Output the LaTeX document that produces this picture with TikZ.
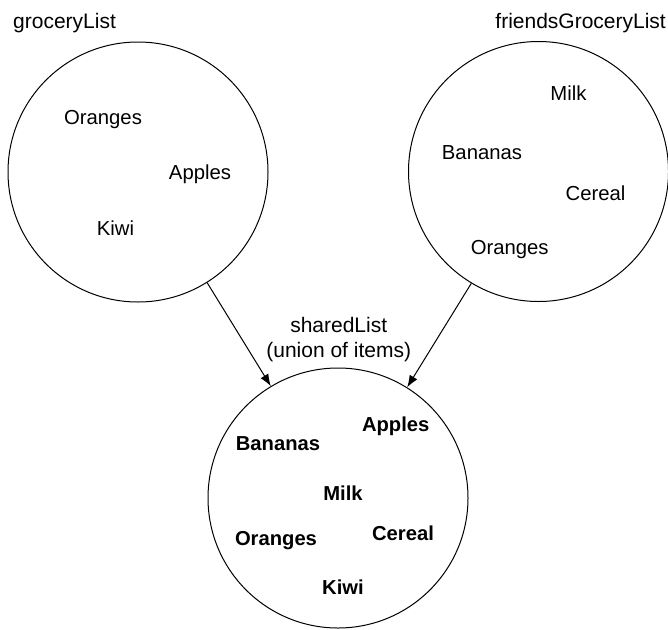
\documentclass[tikz,border=0pt]{standalone}
\usepackage{fontspec}
\setmainfont{Liberation Sans}
\usetikzlibrary{arrows.meta}
\begin{document}
\begin{tikzpicture}[x=1pt,y=-1pt,
  set/.style={draw,circle,line width=1pt,minimum size=260pt,inner sep=0pt},
  item/.style={anchor=base,inner sep=0pt,font=\fontsize{20.3}{24}\selectfont},
  title/.style={item,font=\fontsize{21}{25}\selectfont},
  bitem/.style={item,font=\fontsize{20.2}{24}\selectfont\bfseries},
  conn/.style={line width=1pt,-{Latex[length=12pt,width=9pt]}}]
\useasboundingbox (0,0) rectangle (668,629);
\node[set] (c1) at (138,172) {};
\node[set] (c2) at (538.5,171.5) {};
\node[set] (c3) at (338,498) {};
% titles
\node[title,anchor=base west] (t1) at (13,28) {groceryList};
\node[title,anchor=base east] (t2) at (666,28) {friendsGroceryList};
\node[title] (t3a) at (338.7,332) {sharedList};
\node[title] (t3b) at (338.7,357) {(union of items)};
% groceryList items
\node[item] (a1) at (103,124) {Oranges};
\node[item] (a2) at (200,179) {Apples};
\node[item] (a3) at (115.5,235) {Kiwi};
% friendsGroceryList items
\node[item] (b1) at (568.5,100) {Milk};
\node[item] (b2) at (482,159) {Bananas};
\node[item] (b3) at (595.5,200) {Cereal};
\node[item] (b4) at (509.7,254) {Oranges};
% sharedList items
\node[bitem] (s1) at (395.7,431) {Apples};
\node[bitem] (s2) at (278,450) {Bananas};
\node[bitem] (s3) at (343,500) {Milk};
\node[bitem] (s4) at (276,545) {Oranges};
\node[bitem] (s5) at (403,540) {Cereal};
\node[bitem] (s6) at (343,594) {Kiwi};
% connectors
\draw[conn] (c1.-58) -- (c3.121.5);
\draw[conn] (c2.-121.6) -- (c3.58.2);
\end{tikzpicture}
\end{document}
